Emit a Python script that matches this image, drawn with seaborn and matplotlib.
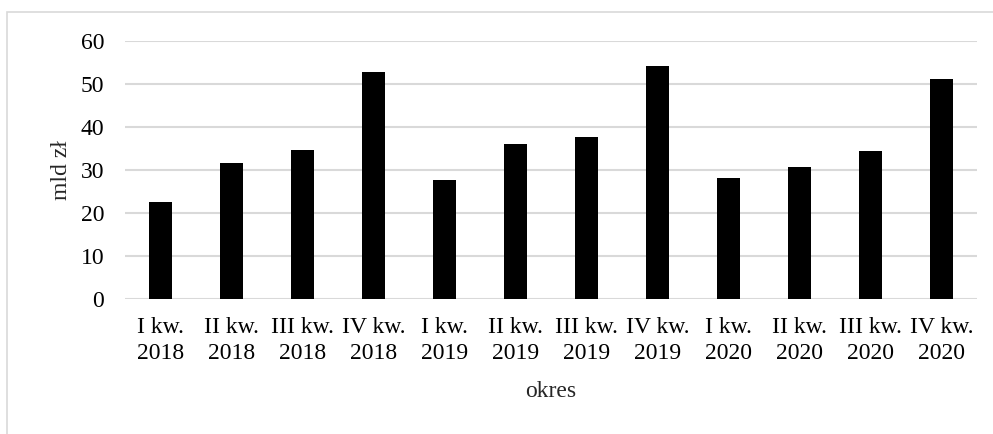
import matplotlib
matplotlib.use("Agg")
import matplotlib.pyplot as plt
import seaborn as sns
import pandas as pd
from matplotlib.patches import Rectangle

categories = ["I kw.\n2018", "II kw.\n2018", "III kw.\n2018", "IV kw.\n2018",
              "I kw.\n2019", "II kw.\n2019", "III kw.\n2019", "IV kw.\n2019",
              "I kw.\n2020", "II kw.\n2020", "III kw.\n2020", "IV kw.\n2020"]
values = [22.5, 31.6, 34.7, 52.8, 27.6, 36.0, 37.6, 54.3, 28.2, 30.8, 34.5, 51.2]
yticks = [0, 10, 20, 30, 40, 50, 60]

sns.set_theme(style="white")
plt.rcParams['font.family'] = ['Liberation Serif', 'DejaVu Serif']

W, H = 993, 434
FS = 17
fig = plt.figure(figsize=(W / 100, H / 100), dpi=100)
fig.patch.set_facecolor("white")

# outer chart border (top and left visible)
fig.patches.append(Rectangle((7 / W, -0.5), 2.0, 1 - 12 / H + 0.5,
                             transform=fig.transFigure, fill=False,
                             edgecolor="#d9d9d9", linewidth=1.2))

ax = fig.add_axes([125 / W, (H - 299) / H, (977 - 125) / W, (299 - 41) / H])

df = pd.DataFrame({"okres": categories, "val": values})
sns.barplot(data=df, x="okres", y="val", color="black", width=0.31,
            saturation=1, ax=ax, zorder=3, edgecolor="black", linewidth=0)

ax.set_ylim(0, 60)
ax.set_yticks(yticks)
ax.set_xlim(-0.5, len(categories) - 0.5)
ax.grid(axis="y", color="#d9d9d9", linewidth=1.5, zorder=0)
ax.grid(axis="x", visible=False)
for s in ax.spines.values():
    s.set_visible(False)
ax.tick_params(axis="both", length=0, labelsize=FS, colors="black")
ax.tick_params(axis="y", pad=15)
ax.tick_params(axis="x", pad=13)
ax.set_ylabel("mld zł", fontsize=FS, labelpad=6)
ax.set_xlabel("okres", fontsize=FS, labelpad=12)
for lbl in ax.get_xticklabels():
    lbl.set_linespacing(1.3)

fig.savefig("out.png", dpi=100, facecolor="white")
